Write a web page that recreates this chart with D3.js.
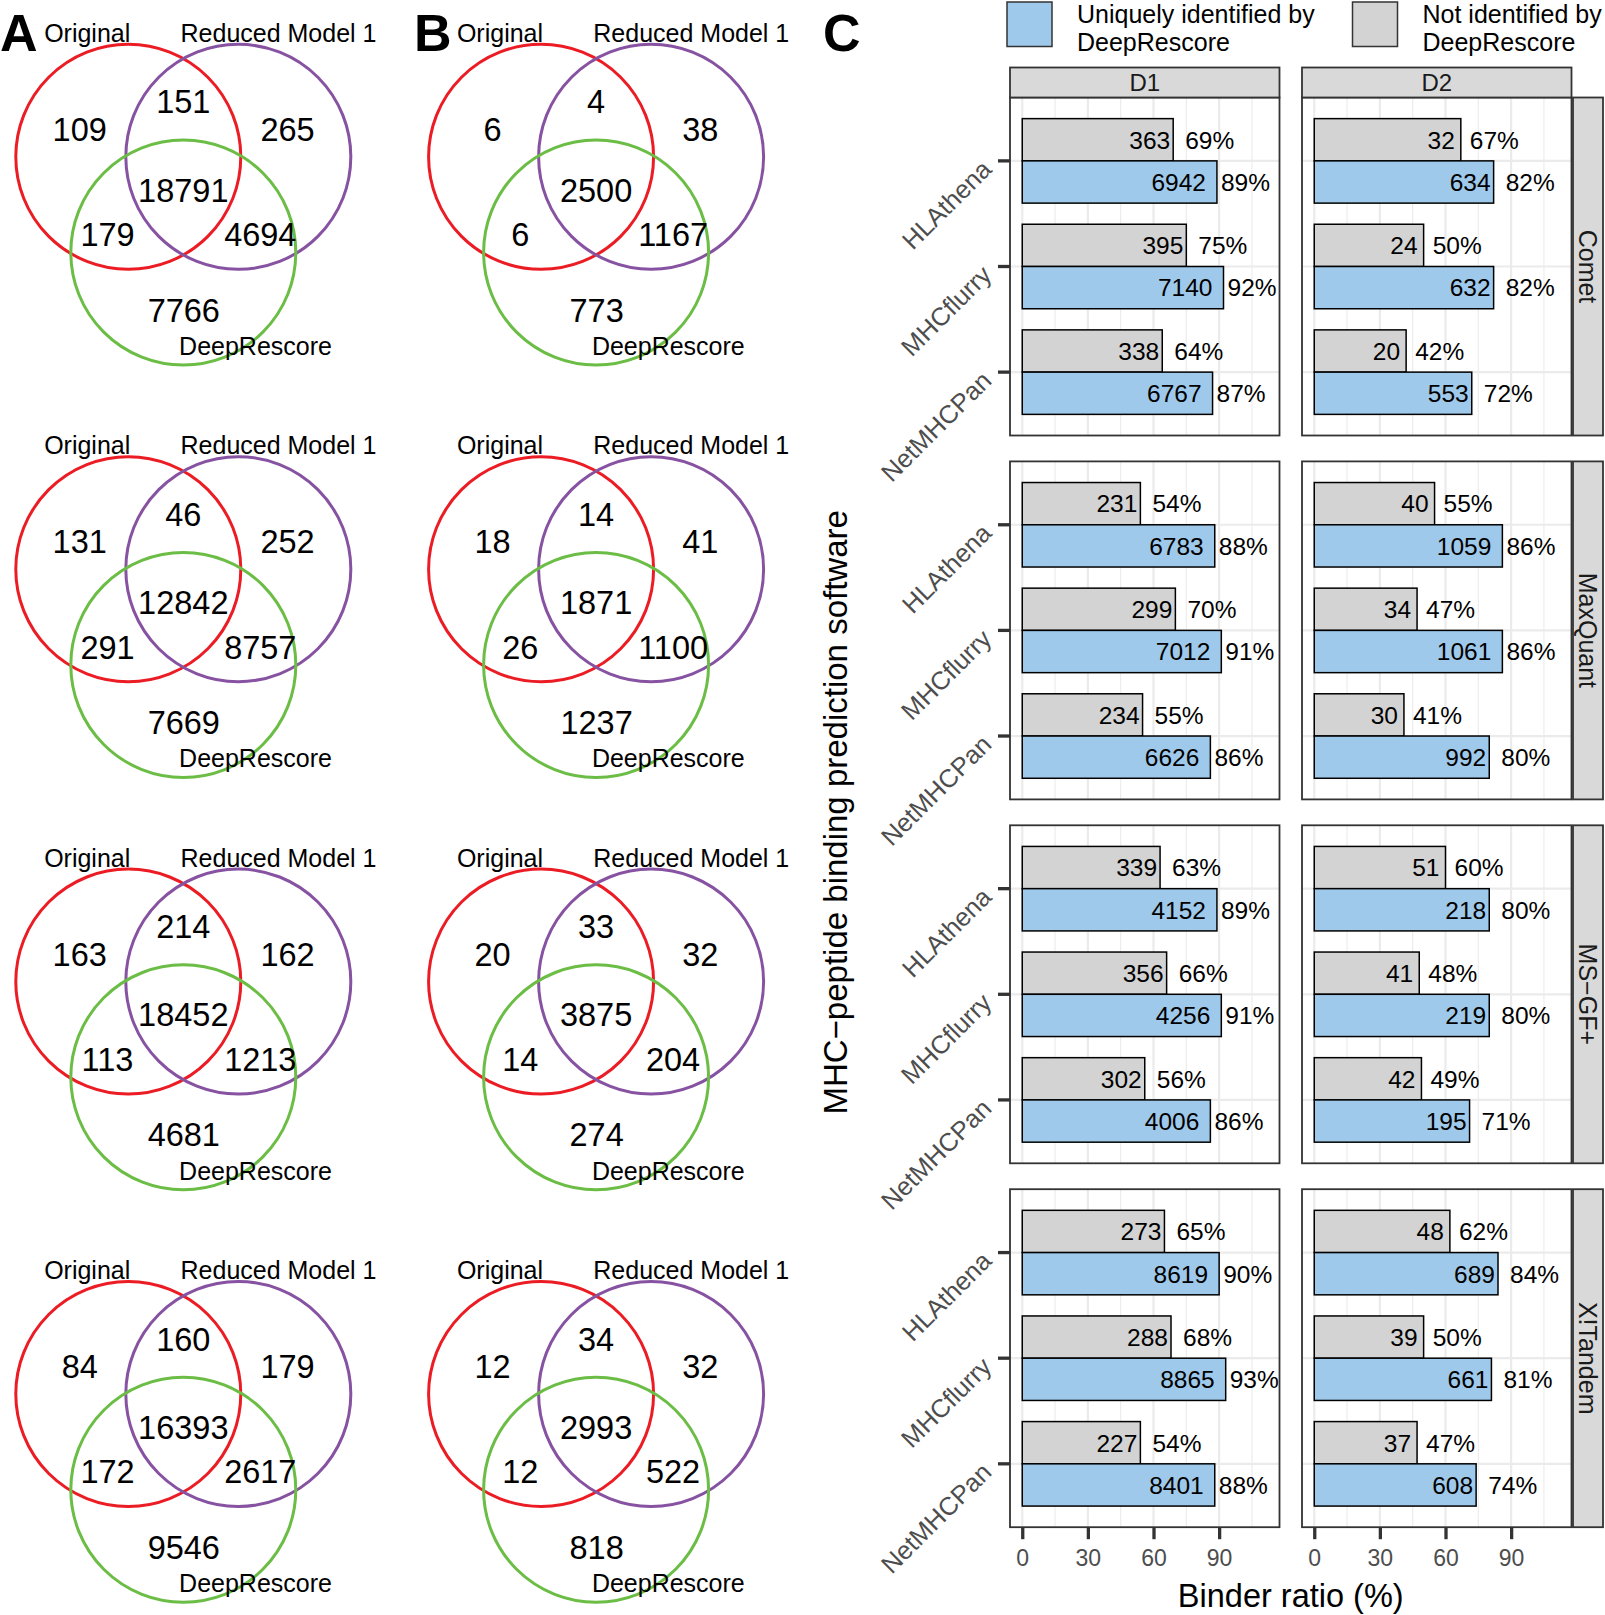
<!DOCTYPE html>
<html>
<head>
<meta charset="utf-8">
<script src="https://cdn.jsdelivr.net/npm/d3@7"></script>
<style>
  body { margin: 0; background: #fff; }
  svg { display: block; font-family: "Liberation Sans", Arial, Helvetica, sans-serif; }
</style>
</head>
<body>
<svg id="fig" width="1605" height="1615"></svg>
<script>
// ---- venn counts: [orig only, orig&red, red only, all three, orig&deep, red&deep, deep only]
var vennA = [
	[109, 151, 265, 18791, 179, 4694, 7766],
	[131, 46, 252, 12842, 291, 8757, 7669],
	[163, 214, 162, 18452, 113, 1213, 4681],
	[84, 160, 179, 16393, 172, 2617, 9546]
];
var vennB = [
	[6, 4, 38, 2500, 6, 1167, 773],
	[18, 14, 41, 1871, 26, 1100, 1237],
	[20, 33, 32, 3875, 14, 204, 274],
	[12, 34, 32, 2993, 12, 522, 818]
];
var vennSets = ["Original", "Reduced Model 1", "DeepRescore"];

// ---- panel C : 4 engines x 3 tools, engine-major
var engines = ["Comet", "MaxQuant", "MS\u2212GF+", "X!Tandem"];
var datasets = ["D1", "D2"];
var tools = ["HLAthena", "MHCflurry", "NetMHCPan"];
var groups = ["Not identified by DeepRescore", "Uniquely identified by DeepRescore"];

var notCountD1 = [363, 395, 338, 231, 299, 234, 339, 356, 302, 273, 288, 227];
var notPctD1 = [69, 75, 64, 54, 70, 55, 63, 66, 56, 65, 68, 54];
var uniqCountD1 = [6942, 7140, 6767, 6783, 7012, 6626, 4152, 4256, 4006, 8619, 8865, 8401];
var uniqPctD1 = [89, 92, 87, 88, 91, 86, 89, 91, 86, 90, 93, 88];
var notCountD2 = [32, 24, 20, 40, 34, 30, 51, 41, 42, 48, 39, 37];
var notPctD2 = [67, 50, 42, 55, 47, 41, 60, 48, 49, 62, 50, 47];
var uniqCountD2 = [634, 632, 553, 1059, 1061, 992, 218, 219, 195, 689, 661, 608];
var uniqPctD2 = [82, 82, 72, 86, 86, 80, 80, 80, 71, 84, 81, 74];

var xTicks = [0, 30, 60, 90];
var xMinor = [15, 45, 75, 105];

var svg = d3.select("#fig");
var FONT_BLACK = "#000";

// ================= venn diagrams =================
var vennColors = ["#EC1C24", "#8652A1", "#6BBD45"];
var circleUnits = [[-0.489, 0], [0.489, 0], [0, 0.851]];
// region label centres (px from venn centre)
var regionPos = [[-103.6, -27.6], [0, -55.1], [104.2, -27.6], [0, 33.2], [-75.8, 77.7], [77, 77.7], [0.5, 153.2]];
var setLabelPos = [[-96.1, -115.1], [95.2, -115.1], [72.2, 198.2]];

function drawVenn(g, counts){
	var s = d3.scaleLinear().domain([0, 1]).range([0, 112.5]);

	g.selectAll("circle")
		.data(circleUnits)
		.enter()
		.append("circle")
		.attr("cx", function(d){ return s(d[0]); })
		.attr("cy", function(d){ return s(d[1]); })
		.attr("r", s(1))
		.attr("fill", "none")
		.attr("stroke", function(d, i){ return vennColors[i]; })
		.attr("stroke-width", 3);

	g.selectAll("text.count")
		.data(counts)
		.enter()
		.append("text")
		.attr("class", "count")
		.attr("x", function(d, i){ return regionPos[i][0]; })
		.attr("y", function(d, i){ return regionPos[i][1]; })
		.attr("dy", "0.36em")
		.attr("text-anchor", "middle")
		.attr("font-size", 32.5)
		.attr("fill", FONT_BLACK)
		.text(function(d){ return d; });

	g.selectAll("text.set")
		.data(vennSets)
		.enter()
		.append("text")
		.attr("class", "set")
		.attr("x", function(d, i){ return setLabelPos[i][0]; })
		.attr("y", function(d, i){ return setLabelPos[i][1]; })
		.attr("text-anchor", "middle")
		.attr("font-size", 25)
		.attr("fill", FONT_BLACK)
		.text(function(d){ return d; });
}

[vennA, vennB].forEach(function(col, c){
	col.forEach(function(counts, r){
		var g = svg.append("g")
			.attr("transform", "translate(" + (183.3 + c * 412.8) + "," + (156.8 + r * 412.4) + ")");
		drawVenn(g, counts);
	});
});

// panel letters
[["A", 0], ["B", 414], ["C", 823]].forEach(function(p){
	svg.append("text")
		.attr("x", p[1])
		.attr("y", 50.7)
		.attr("font-size", 52)
		.attr("font-weight", "bold")
		.text(p[0]);
});

// ================= panel C =================
var panelX = [1010, 1302];
var panelW = 269.5;
var panelH = 338;
var rowTop = [97.5, 461.4, 825.3, 1189.2];
var stripTop = 67.5, stripH = 30;
var rightStripX = 1573, rightStripW = 30;

var x = d3.scaleLinear().domain([-5.6, 117.6]).range([0, panelW]);
var y = d3.scaleBand().domain(tools).range([0, panelH]).paddingInner(0.2).paddingOuter(0.2);
var yDodge = d3.scaleBand().domain(groups).range([0, y.bandwidth()]);
var fill = d3.scaleOrdinal().domain(groups).range(["#D3D3D3", "#9FC9EA"]);

var seriesByDataset = {
	D1: { notCount: notCountD1, notPct: notPctD1, uniqCount: uniqCountD1, uniqPct: uniqPctD1 },
	D2: { notCount: notCountD2, notPct: notPctD2, uniqCount: uniqCountD2, uniqPct: uniqPctD2 }
};

// count sits inside bar end, shift depends on digit count (as in the source figure)
function countShift(n){
	var digits = String(n).length;
	if(digits <= 2) return -6;
	if(digits == 3) return -3;
	return -11;
}

function panelRows(ds, e){
	var s = seriesByDataset[ds];
	var rows = [];
	for(var t = 0; t < tools.length; t++){
		var k = e * tools.length + t;
		rows.push({ tool: tools[t], group: groups[0], count: s.notCount[k], pct: s.notPct[k] });
		rows.push({ tool: tools[t], group: groups[1], count: s.uniqCount[k], pct: s.uniqPct[k] });
	}
	return rows;
}

engines.forEach(function(engine, e){
	datasets.forEach(function(ds, d){
		var g = svg.append("g")
			.attr("transform", "translate(" + panelX[d] + "," + rowTop[e] + ")");

		var clipId = "clip" + e + d;
		g.append("clipPath").attr("id", clipId)
			.append("rect").attr("width", panelW).attr("height", panelH);

		// grid
		g.selectAll("line.minor")
			.data(xMinor)
			.enter().append("line")
			.attr("x1", function(v){ return x(v); })
			.attr("x2", function(v){ return x(v); })
			.attr("y1", 0).attr("y2", panelH)
			.attr("stroke", "#EBEBEB").attr("stroke-width", 1.1);
		g.selectAll("line.major")
			.data(xTicks)
			.enter().append("line")
			.attr("x1", function(v){ return x(v); })
			.attr("x2", function(v){ return x(v); })
			.attr("y1", 0).attr("y2", panelH)
			.attr("stroke", "#EBEBEB").attr("stroke-width", 2.2);
		g.selectAll("line.hmajor")
			.data(tools)
			.enter().append("line")
			.attr("x1", 0).attr("x2", panelW)
			.attr("y1", function(t){ return y(t) + y.bandwidth() / 2; })
			.attr("y2", function(t){ return y(t) + y.bandwidth() / 2; })
			.attr("stroke", "#EBEBEB").attr("stroke-width", 2.2);

		var rows = panelRows(ds, e);
		var inner = g.append("g").attr("clip-path", "url(#" + clipId + ")");

		inner.selectAll("rect.bar")
			.data(rows)
			.enter().append("rect")
			.attr("x", x(0))
			.attr("y", function(r){ return y(r.tool) + yDodge(r.group); })
			.attr("width", function(r){ return x(r.pct) - x(0); })
			.attr("height", yDodge.bandwidth())
			.attr("fill", function(r){ return fill(r.group); })
			.attr("stroke", "#000")
			.attr("stroke-width", 1.5);

		inner.selectAll("text.cnt")
			.data(rows)
			.enter().append("text")
			.attr("x", function(r){ return x(r.pct) + countShift(r.count); })
			.attr("y", function(r){ return y(r.tool) + yDodge(r.group) + yDodge.bandwidth() / 2; })
			.attr("dy", "0.36em")
			.attr("text-anchor", "end")
			.attr("font-size", 24.5)
			.text(function(r){ return r.count; });

		inner.selectAll("text.pct")
			.data(rows)
			.enter().append("text")
			.attr("x", function(r){ return x(r.pct) + countShift(r.count) + 15; })
			.attr("y", function(r){ return y(r.tool) + yDodge(r.group) + yDodge.bandwidth() / 2; })
			.attr("dy", "0.36em")
			.attr("font-size", 24.5)
			.text(function(r){ return r.pct + "%"; });

		// border
		g.append("rect")
			.attr("width", panelW).attr("height", panelH)
			.attr("fill", "none").attr("stroke", "#333").attr("stroke-width", 1.8);

		// y axis on left column
		if(d == 0){
			var ya = g.append("g").call(d3.axisLeft(y).tickSize(12).tickPadding(0));
			ya.select(".domain").remove();
			ya.selectAll(".tick line").attr("stroke", "#333").attr("stroke-width", 3.3);
			ya.selectAll(".tick text")
				.attr("x", 0).attr("dy", 0)
				.attr("transform", "translate(-17,10) rotate(-45)")
				.attr("text-anchor", "end")
				.attr("fill", "#4D4D4D")
				.attr("font-size", 25.5)
				.attr("font-family", null);
		}

		// x axis on bottom row
		if(e == engines.length - 1){
			var xa = g.append("g")
				.attr("transform", "translate(0," + panelH + ")")
				.call(d3.axisBottom(x).tickValues(xTicks).tickSize(12).tickPadding(10));
			xa.select(".domain").remove();
			xa.selectAll(".tick line").attr("stroke", "#333").attr("stroke-width", 3.3);
			xa.selectAll(".tick text")
				.attr("fill", "#4D4D4D")
				.attr("font-size", 23)
				.attr("font-family", null);
		}

		// top strips
		if(e == 0){
			svg.append("rect")
				.attr("x", panelX[d]).attr("y", stripTop)
				.attr("width", panelW).attr("height", stripH)
				.attr("fill", "#D9D9D9").attr("stroke", "#333").attr("stroke-width", 1.8);
			svg.append("text")
				.attr("x", panelX[d] + panelW / 2)
				.attr("y", stripTop + stripH / 2)
				.attr("dy", "0.36em")
				.attr("text-anchor", "middle")
				.attr("font-size", 24)
				.attr("fill", "#1A1A1A")
				.text(ds);
		}
	});

	// right strip
	svg.append("rect")
		.attr("x", rightStripX).attr("y", rowTop[e])
		.attr("width", rightStripW).attr("height", panelH)
		.attr("fill", "#D9D9D9").attr("stroke", "#333").attr("stroke-width", 1.8);
	svg.append("text")
		.attr("transform", "translate(" + (rightStripX + rightStripW / 2) + "," + (rowTop[e] + panelH / 2) + ") rotate(90)")
		.attr("dy", "0.36em")
		.attr("text-anchor", "middle")
		.attr("font-size", 25)
		.attr("fill", "#1A1A1A")
		.text(engine);
});

// axis titles
svg.append("text")
	.attr("x", (panelX[0] + panelX[1] + panelW) / 2)
	.attr("y", 1607)
	.attr("text-anchor", "middle")
	.attr("font-size", 32.5)
	.text("Binder ratio (%)");

svg.append("text")
	.attr("transform", "translate(835," + ((rowTop[0] + rowTop[3] + panelH) / 2) + ") rotate(-90)")
	.attr("dy", "0.36em")
	.attr("text-anchor", "middle")
	.attr("font-size", 33)
	.text("MHC\u2212peptide binding prediction software");

// legend
var legendItems = [
	{ group: groups[1], x: 1007, lines: ["Uniquely identified by", "DeepRescore"] },
	{ group: groups[0], x: 1352.5, lines: ["Not identified by", "DeepRescore"] }
];
var lg = svg.selectAll("g.legend")
	.data(legendItems)
	.enter().append("g")
	.attr("class", "legend")
	.attr("transform", function(d){ return "translate(" + d.x + ",2)"; });
lg.append("rect")
	.attr("width", 45).attr("height", 44.5)
	.attr("fill", function(d){ return fill(d.group); })
	.attr("stroke", "#333").attr("stroke-width", 1.5);
lg.each(function(d){
	var t = d3.select(this);
	d.lines.forEach(function(line, i){
		t.append("text")
			.attr("x", 70)
			.attr("y", 20.5 + i * 28.5)
			.attr("font-size", 25)
			.attr("fill", FONT_BLACK)
			.text(line);
	});
});
</script>
</body>
</html>
